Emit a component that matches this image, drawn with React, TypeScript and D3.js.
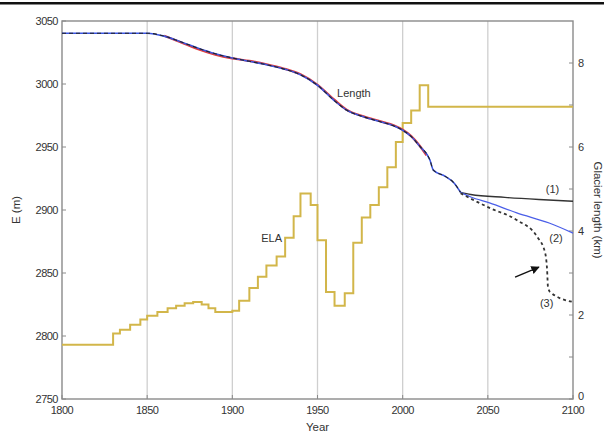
import * as d3 from "d3";

// ELA steps (m), each value holds from its year until the next
const elaYears = [1800, 1830, 1834, 1840, 1846, 1850, 1856, 1862, 1867, 1872, 1877, 1882, 1886, 1890, 1900, 1904, 1910, 1915, 1920, 1926, 1931, 1936, 1940, 1946, 1950, 1955, 1960, 1966, 1971, 1976, 1981, 1986, 1991, 1996, 2000, 2005, 2010, 2015, 2100];
const elaValues = [2793, 2802, 2805, 2809, 2813, 2816, 2819, 2822, 2824, 2826, 2827, 2825, 2822, 2819, 2820, 2828, 2838, 2847, 2856, 2863, 2878, 2895, 2913, 2904, 2876, 2835, 2824, 2834, 2874, 2894, 2904, 2918, 2934, 2954, 2969, 2979, 2999, 2982, 2982];

// glacier length history (km)
const histYears = [1800, 1850, 1860, 1870, 1880, 1890, 1900, 1910, 1920, 1930, 1940, 1950, 1960, 1967, 1977, 1987, 1995, 2000, 2005, 2010, 2016, 2018, 2025, 2030, 2034];
const histLength = [8.71, 8.71, 8.64, 8.5, 8.35, 8.22, 8.12, 8.04, 7.96, 7.86, 7.72, 7.47, 7.1, 6.88, 6.72, 6.6, 6.5, 6.4, 6.25, 6.02, 5.69, 5.45, 5.3, 5.15, 4.92];
// observed (red) part
const obsYears = [1860, 1870, 1880, 1890, 1900, 1910, 1920, 1930, 1940, 1950, 1960, 1967, 1977, 1987, 1995, 2000, 2005, 2010, 2014];
const obsLength = [8.65, 8.49, 8.33, 8.2, 8.11, 8.05, 7.97, 7.87, 7.73, 7.48, 7.12, 6.89, 6.73, 6.61, 6.51, 6.41, 6.26, 6.03, 5.8];

const s1Years = [2034, 2040, 2060, 2080, 2100];
const s1Length = [4.92, 4.87, 4.8, 4.75, 4.71];
const s2Years = [2034, 2040, 2051, 2067, 2086, 2100];
const s2Length = [4.92, 4.81, 4.67, 4.43, 4.19, 3.95];
const s3Years = [2034, 2040, 2051, 2067, 2079, 2083.5, 2084.8, 2085.3, 2086.5, 2100];
const s3Length = [4.9, 4.77, 4.55, 4.26, 3.86, 3.5, 3.07, 2.67, 2.55, 2.31];

const leftTicks = [2750, 2800, 2850, 2900, 2950, 3000, 3050];
const rightTicks = [0, 1, 2, 3, 4, 5, 6, 7, 8];
const yearTicks = [1800, 1850, 1900, 1950, 2000, 2050, 2100];

const W = 604;
const H = 435;
const m = { left: 62, right: 31, top: 21, bottom: 36 };
const font = "Liberation Sans, Arial, sans-serif";

export default function App() {
  const x = d3.scaleLinear().domain([1800, 2100]).range([m.left, W - m.right]);
  const yE = d3.scaleLinear().domain([2750, 3050]).range([H - m.bottom, m.top]);
  const yL = d3.scaleLinear().domain([0, 9]).range([H - m.bottom, m.top]);

  const x0 = x(1800), x1 = x(2100), y0 = yE(2750), y1 = yE(3050);

  const elaLine = d3
    .line<number>()
    .x((d, i) => x(elaYears[i]))
    .y((d) => yE(d))
    .curve(d3.curveStepAfter);

  const lenPath = (years: number[], vals: number[]) =>
    d3
      .line<number>()
      .x((d, i) => x(years[i]))
      .y((d) => yL(d))
      .curve(d3.curveMonotoneX)(vals) ?? "";

  const axisCol = "#8a8a8a";
  const textCol = "#333";

  return (
    <svg width={W} height={H} style={{ position: "absolute", left: 0, top: 0, background: "#fff" }} fontFamily={font}>
      <rect x={0} y={2} width={W} height={2.5} fill="#111" />

      {/* vertical grid */}
      {yearTicks.slice(1, -1).map((t) => (
        <line key={t} x1={x(t)} x2={x(t)} y1={y1} y2={y0} stroke="#cfcfcf" strokeWidth={1.3} />
      ))}

      {/* frame */}
      <rect x={x0} y={y1} width={x1 - x0} height={y0 - y1} fill="none" stroke={axisCol} strokeWidth={1.4} />

      {/* left ticks */}
      {leftTicks.map((t) => (
        <g key={t}>
          <line x1={x0} x2={x0 + 4} y1={yE(t)} y2={yE(t)} stroke={axisCol} />
          <text x={x0 - 4} y={yE(t)} dy="0.35em" textAnchor="end" fontSize={11} fill={textCol} letterSpacing={-0.5}>
            {t}
          </text>
        </g>
      ))}
      {/* right ticks */}
      {rightTicks.map((t) => (
        <g key={t}>
          <line x1={x1 - 4} x2={x1} y1={yL(t)} y2={yL(t)} stroke={axisCol} />
          {t % 2 === 0 && (
            <text x={x1 + 5} y={yL(t) - (t === 0 ? 3 : 0)} dy="0.35em" textAnchor="start" fontSize={11} fill={textCol}>
              {t}
            </text>
          )}
        </g>
      ))}
      {/* bottom ticks */}
      {yearTicks.map((t) => (
        <g key={t}>
          <line x1={x(t)} x2={x(t)} y1={y0} y2={y0 - 4} stroke={axisCol} />
          <text x={x(t)} y={y0 + 15} textAnchor="middle" fontSize={11} fill={textCol} letterSpacing={-0.5}>
            {t}
          </text>
        </g>
      ))}

      {/* ELA */}
      <path d={elaLine(elaValues) ?? ""} fill="none" stroke="#d2b64a" strokeWidth={2} />

      {/* length lines */}
      <path d={lenPath(obsYears, obsLength)} fill="none" stroke="#e23b3b" strokeWidth={2.2} />
      <path d={lenPath(histYears, histLength)} fill="none" stroke="#3b55e0" strokeWidth={1.6} />
      <path d={lenPath(histYears, histLength)} fill="none" stroke="#222" strokeWidth={1.1} strokeDasharray="4 3" />
      <path d={lenPath(s1Years, s1Length)} fill="none" stroke="#333" strokeWidth={1.4} />
      <path d={lenPath(s2Years, s2Length)} fill="none" stroke="#4a5ee8" strokeWidth={1.2} />
      <path d={lenPath(s3Years, s3Length)} fill="none" stroke="#333" strokeWidth={1.8} strokeDasharray="3 3" />

      {/* arrow */}
      <defs>
        <marker id="ah" viewBox="0 0 10 10" refX={9} refY={5} markerWidth={6} markerHeight={6} orient="auto">
          <path d="M0,0 L10,5 L0,10 z" fill="#111" />
        </marker>
      </defs>
      <line x1={x(2066)} y1={yL(2.9)} x2={x(2080)} y2={yL(3.14)} stroke="#111" strokeWidth={1.4} markerEnd="url(#ah)" />

      {/* annotations */}
      <text x={x(1961.5)} y={yL(7.2)} fontSize={11} fill={textCol}>Length</text>
      <text x={x(1917)} y={yE(2875)} fontSize={11} fill={textCol}>ELA</text>
      <text x={x(2084)} y={yL(4.9)} fontSize={11} fill={textCol}>(1)</text>
      <text x={x(2094)} y={yL(3.75)} fontSize={11} fill={textCol} textAnchor="end">(2)</text>
      <text x={x(2088.5)} y={yL(2.18)} fontSize={11} fill={textCol} textAnchor="end">(3)</text>

      {/* axis titles */}
      <text x={(x0 + x1) / 2} y={431} textAnchor="middle" fontSize={11.5} fill={textCol}>Year</text>
      <text transform={`translate(20,${(y0 + y1) / 2}) rotate(-90)`} textAnchor="middle" fontSize={11.5} fill={textCol}>E (m)</text>
      <text transform={`translate(594,${(y0 + y1) / 2}) rotate(90)`} textAnchor="middle" fontSize={11.5} fill={textCol}>Glacier length (km)</text>
    </svg>
  );
}
